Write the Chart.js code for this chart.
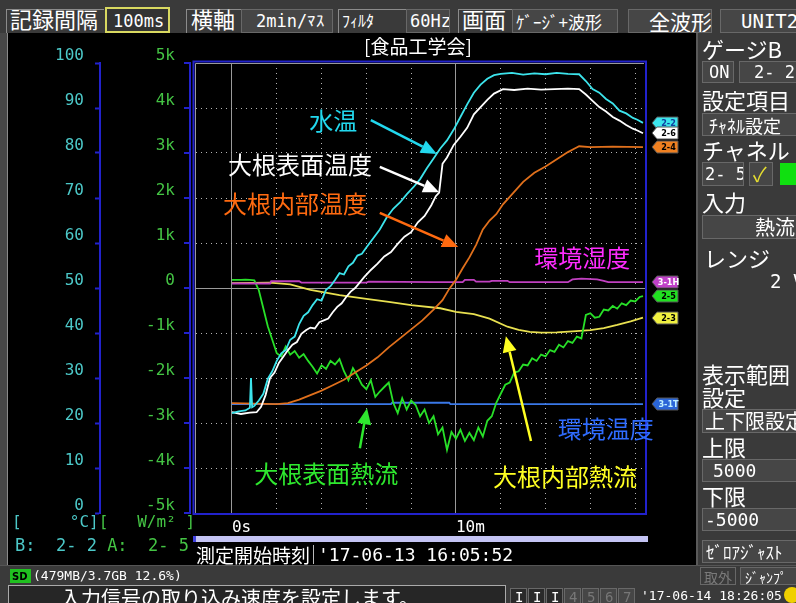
<!doctype html>
<html>
<head>
<meta charset="utf-8">
<title>食品工学会 記録画面</title>
<script src="https://cdn.jsdelivr.net/npm/chart.js@4"></script>
<style>
body { margin:0; width:796px; height:603px; overflow:hidden; position:relative; background:#000; color:#fff; font-family:'Noto Sans CJK JP', sans-serif; }
.t { position:absolute; white-space:nowrap; line-height:1; }
.pre { white-space:pre; }
.box { position:absolute; box-sizing:border-box; background:#464646; border:1px solid #686868; white-space:pre; overflow:hidden; line-height:1; }
.mono { font-family:'DejaVu Sans Mono', monospace; }
.grp { position:absolute; box-sizing:border-box; border-left:1px solid #8c8c8c; border-top:1px solid #8c8c8c; }
#chartBox { position:absolute; left:8px; top:33px; width:689px; height:532px; }
</style>
</head>
<body>
<!-- header -->
<div class="t" style="left:0;top:0;width:796px;height:33px;background:#3a3a3a"></div>
<div class="grp" style="left:6px;top:9px;width:98px;height:24px"></div>
<div class="t" style="left:10px;top:7px;font-size:22px">記録間隔</div>
<div class="box mono" style="left:105px;top:7px;width:65px;height:26px;border:2px solid #d8d860;background:#333;font-size:17px;padding:4px 0 0 6px">100ms</div>
<div class="grp" style="left:186px;top:9px;width:56px;height:24px"></div>
<div class="t" style="left:191px;top:7px;font-size:22px">横軸</div>
<div class="box mono" style="left:241px;top:9px;width:92px;height:24px;font-size:17px;padding:3px 0 0 14px">2min/ﾏｽ</div>
<div class="grp" style="left:338px;top:9px;width:68px;height:24px"></div>
<div class="t" style="left:342px;top:12px;font-size:16px">ﾌｨﾙﾀ</div>
<div class="box mono" style="left:406px;top:9px;width:44px;height:24px;font-size:17px;padding:3px 0 0 3px">60Hz</div>
<div class="grp" style="left:458px;top:9px;width:54px;height:24px"></div>
<div class="t" style="left:462px;top:7px;font-size:22px">画面</div>
<div class="box" style="left:512px;top:9px;width:106px;height:24px;font-size:17px;padding:3px 0 0 3px">ｹﾞｰｼﾞ+波形</div>
<div class="box" style="left:628px;top:9px;width:84px;height:24px;font-size:21px;padding:1px 0 0 20px">全波形</div>
<div class="box mono" style="left:720px;top:9px;width:80px;height:24px;font-size:19px;padding:2px 0 0 20px">UNIT2</div>

<!-- left frame strip -->
<div class="t" style="left:0;top:33px;width:7px;height:532px;background:#474747;border-right:1px solid #8a8a8a"></div>

<!-- chart -->
<div id="chartBox"><canvas id="canvas" width="689" height="532"></canvas></div>
<div class="t" style="left:364px;top:36px;font-size:19px">[食品工学会]</div>

<!-- under chart -->
<div class="t pre mono" style="left:12px;top:514px;font-size:16px"><span style="color:#4cc8c8">[     °C]</span><span style="color:#44c444">[   W/m² ]</span></div>
<div class="t pre mono" style="left:15px;top:537px;font-size:17px"><span style="color:#4cc8c8">B:  2- 2 </span><span style="color:#44c444">A:  2- 5</span></div>
<div class="t" style="left:193px;top:536px;width:452px;height:6px;background:#c4c4f4;border-left:3px solid #4040e0"></div>
<div class="t" style="left:196px;top:545px;font-size:19px;padding-right:3px;border-right:1px solid #bbb">測定開始時刻</div>
<div class="t mono" style="left:318px;top:546px;font-size:18px">'17-06-13 16:05:52</div>

<!-- right panel -->
<div class="t" style="left:696px;top:33px;width:100px;height:532px;background:#3a3a3a;border-left:2px solid #5a5a5a"></div>
<div class="t" style="left:702px;top:37px;font-size:22px">ゲージB</div>
<div class="box mono" style="left:702px;top:61px;width:32px;height:22px;font-size:17px;padding:2px 0 0 6px">ON</div>
<div class="box mono" style="left:739px;top:61px;width:62px;height:22px;font-size:17px;padding:2px 0 0 14px">2- 2</div>
<div class="t" style="left:702px;top:88px;font-size:22px">設定項目</div>
<div class="box" style="left:702px;top:113px;width:98px;height:23px;font-size:18px;padding:2px 0 0 6px">ﾁｬﾈﾙ設定</div>
<div class="t" style="left:702px;top:138px;font-size:22px">チャネル</div>
<div class="box mono" style="left:702px;top:162px;width:42px;height:24px;font-size:17px;padding:3px 0 0 2px">2- 5</div>
<div class="box" style="left:749px;top:162px;width:24px;height:24px;font-size:20px;color:#e8e030;padding:1px 0 0 3px">✓</div>
<div class="t" style="left:780px;top:163px;width:20px;height:22px;background:#10e010"></div>
<div class="t" style="left:702px;top:190px;font-size:22px">入力</div>
<div class="box" style="left:702px;top:215px;width:98px;height:24px;font-size:20px;padding:1px 0 0 52px">熱流</div>
<div class="t" style="left:704px;top:246px;font-size:22px">レンジ</div>
<div class="t mono" style="left:770px;top:272px;font-size:19px">2 V</div>
<div class="t" style="left:702px;top:362px;font-size:22px">表示範囲</div>
<div class="t" style="left:702px;top:385px;font-size:22px">設定</div>
<div class="box" style="left:702px;top:409px;width:98px;height:24px;font-size:20px;padding:1px 0 0 2px">上下限設定</div>
<div class="t" style="left:702px;top:435px;font-size:22px">上限</div>
<div class="box mono" style="left:702px;top:459px;width:98px;height:23px;font-size:18px;padding:2px 0 0 10px">5000</div>
<div class="t" style="left:702px;top:484px;font-size:22px">下限</div>
<div class="box mono" style="left:702px;top:508px;width:98px;height:23px;font-size:18px;padding:2px 0 0 2px">-5000</div>
<div class="box" style="left:702px;top:540px;width:98px;height:23px;font-size:17px;padding:2px 0 0 3px">ｾﾞﾛｱｼﾞｬｽﾄ</div>

<!-- bottom bar -->
<div class="t" style="left:0;top:565px;width:796px;height:38px;background:#3a3a3a;border-top:1px solid #555"></div>
<div class="t" style="left:10px;top:569px;width:21px;height:14px;background:#20c020;color:#000;font:bold 10px 'DejaVu Sans';padding:2px 0 0 2px;box-sizing:border-box">SD</div>
<div class="t mono" style="left:33px;top:569px;font-size:13px">(479MB/3.7GB 12.6%)</div>
<div class="box" style="left:700px;top:567px;width:36px;height:18px;font-size:14px;color:#7a7a7a;background:#3a3a3a;padding:2px 0 0 3px">取外</div>
<div class="box" style="left:740px;top:567px;width:60px;height:18px;font-size:14px;padding:2px 0 0 4px">ｼﾞｬﾝﾌﾟ</div>
<div class="box" style="left:8px;top:585px;width:498px;height:24px;background:#262626;border-color:#aaa;font-size:20px;padding:2px 0 0 52px">入力信号の取り込み速度を設定します。</div>
<div class="box mono" style="left:510px;top:588px;width:17px;height:18px;font-size:14px;padding:1px 0 0 4px;background:#2a2a2a">I</div>
<div class="box mono" style="left:528px;top:588px;width:17px;height:18px;font-size:14px;padding:1px 0 0 4px;background:#2a2a2a">I</div>
<div class="box mono" style="left:546px;top:588px;width:17px;height:18px;font-size:14px;padding:1px 0 0 4px;background:#2a2a2a">I</div>
<div class="box mono" style="left:564px;top:588px;width:17px;height:18px;font-size:14px;padding:1px 0 0 4px;color:#777">4</div>
<div class="box mono" style="left:582px;top:588px;width:17px;height:18px;font-size:14px;padding:1px 0 0 4px;color:#777">5</div>
<div class="box mono" style="left:600px;top:588px;width:17px;height:18px;font-size:14px;padding:1px 0 0 4px;color:#777">6</div>
<div class="box mono" style="left:618px;top:588px;width:17px;height:18px;font-size:14px;padding:1px 0 0 4px;color:#777">7</div>
<div class="t mono" style="left:641px;top:589px;font-size:13px">'17-06-14 18:26:05</div>
<div class="t" style="left:784px;top:587px;width:16px;height:16px;border-radius:50%;background:#f0d000"></div>

<script>
// time axis in minutes from the start of measurement
var timeTicks = [0, 2, 4, 6, 8, 10, 12, 14, 16, 18];
var timeTickLabels = {0: '0s', 10: '10m'};

// 水温 (2-2) [°C]
var timeWater = [0, 0.3, 0.6, 0.8, 0.85, 0.9, 1.0, 1.2, 1.4, 1.6, 1.8, 2.0, 2.2, 2.4, 2.6, 2.8, 3.0, 3.2, 3.4, 3.6, 3.8,
	4.0, 4.2, 4.4, 4.6, 4.8, 5.0, 5.2, 5.4, 5.6, 5.8, 6.0, 6.3, 6.6, 6.9, 7.2, 7.5, 7.8, 8.1, 8.4, 8.7, 9.0, 9.3, 9.6, 9.9,
	10.2, 10.5, 10.8, 11.1, 11.4, 11.7, 12.0, 12.5, 13.0, 13.5, 14.0, 14.5, 15.0, 15.5, 15.8, 16.1, 16.4, 16.7, 17.0, 17.3,
	17.6, 17.9, 18.1, 18.35];
var waterTemp = [22.2, 22.6, 22.8, 23.4, 30.0, 23.5, 23.8, 25.0, 26.5, 29.8, 31.5, 33.8, 35.5, 36.2, 38.5, 39.2, 42.0, 43.8, 44.6, 46.2, 47.5,
	47.2, 49.6, 50.4, 51.8, 53.3, 53.0, 54.8, 55.6, 57.2, 57.6, 59.0, 61.0, 63.0, 65.6, 67.6, 69.0, 70.8, 72.4, 74.2, 76.6, 78.8, 81.0, 82.8, 85.2,
	88.0, 90.8, 93.4, 95.2, 96.5, 97.3, 97.6, 97.8, 97.4, 97.7, 97.5, 97.8, 97.6, 97.5, 96.0, 94.2, 93.4, 92.0, 91.0, 89.4,
	88.8, 87.8, 87.4, 86.7];

// 大根表面温度 (2-6) [°C]
var timeSurf = [0, 0.4, 0.8, 1.1, 1.3, 1.5, 1.7, 1.9, 2.1, 2.3, 2.5, 2.7, 2.9, 3.1, 3.3, 3.5, 3.7, 3.9, 4.1, 4.3,
	4.5, 4.7, 4.9, 5.1, 5.3, 5.5, 5.7, 5.9, 6.2, 6.5, 6.8, 7.1, 7.4, 7.7, 8.0, 8.3, 8.6, 8.9, 9.1, 9.25,
	9.4, 9.6, 9.9, 10.2, 10.5, 10.8, 11.1, 11.4, 11.7, 12.1, 12.6, 13.2, 13.8, 14.4, 15.0, 15.5, 15.8, 16.1, 16.4, 16.7,
	17.0, 17.3, 17.6, 17.9, 18.1, 18.35];
var surfTemp = [22.4, 22.0, 22.3, 22.4, 23.6, 26.2, 30.0, 31.2, 33.4, 34.8, 36.2, 37.4, 38.0, 39.8, 40.6, 41.2, 41.0, 42.4, 42.8, 43.2,
	44.6, 45.8, 46.6, 48.0, 49.2, 50.0, 51.2, 52.4, 54.0, 55.4, 57.0, 58.0, 59.8, 61.4, 62.4, 64.6, 66.0, 68.4, 70.4, 71.2,
	77.6, 79.0, 81.8, 83.6, 85.6, 88.6, 90.2, 91.8, 93.2, 94.2, 94.0, 94.3, 94.1, 94.2, 94.3, 94.2, 93.0, 91.6, 90.2, 89.2,
	88.0, 87.2, 86.2, 85.4, 85.0, 84.4];

// 大根内部温度 (2-4) [°C]
var timeCore = [0, 1.0, 2.0, 2.5, 3.0, 3.5, 4.0, 4.5, 5.0, 5.5, 6.0, 6.5, 7.0, 7.5, 8.0, 8.5, 9.0, 9.4, 9.7, 10.0,
	10.3, 10.6, 10.9, 11.2, 11.5, 11.8, 12.1, 12.5, 13.0, 13.5, 14.0, 14.5, 15.0, 15.3, 15.5, 16.0, 17.0, 18.35];
var coreTemp = [24.4, 24.3, 24.2, 24.4, 25.2, 26.2, 27.2, 28.4, 29.6, 31.2, 32.8, 34.6, 36.8, 38.8, 40.8, 42.8, 45.2, 47.3, 49.8, 51.8,
	54.4, 56.8, 59.6, 63.0, 65.0, 66.4, 68.6, 70.8, 73.6, 75.6, 77.0, 78.6, 80.2, 81.0, 81.5, 81.3, 81.4, 81.3];

// 環境湿度 (3-1H) [%]
var timeHum = [0, 1.7, 1.75, 3.0, 3.1, 6.0, 6.1, 9.0, 10.3, 10.4, 10.8, 10.9, 11.5, 11.6, 12.3, 12.4, 15.0, 15.2, 15.6, 16.3, 16.6, 16.8, 18.35];
var humidity = [51.0, 51.0, 51.5, 51.5, 51.2, 51.2, 51.4, 51.3, 51.3, 51.8, 51.8, 51.4, 51.4, 51.6, 51.6, 51.3, 51.3, 51.9, 52.1, 51.9, 51.6, 51.3, 51.3];

// 環境温度 (3-1T) [°C]
var timeAmb = [0, 7.1, 7.15, 9.7, 9.75, 18.35];
var ambTemp = [24.2, 24.2, 24.5, 24.5, 24.2, 24.2];

// 大根表面熱流 (2-5) [W/m²]
var timeSurfFlux = [0, 0.2, 0.4, 0.6, 0.8, 1.0, 1.2, 1.4, 1.6, 1.8, 2.0, 2.2, 2.4, 2.6, 2.8, 3.0, 3.2, 3.4, 3.6, 3.8,
	4.0, 4.2, 4.4, 4.6, 4.8, 5.0, 5.2, 5.4, 5.6, 5.8, 6.0, 6.2, 6.4, 6.6, 6.8, 7.0, 7.2, 7.4, 7.6, 7.8,
	8.0, 8.2, 8.4, 8.6, 8.8, 9.0, 9.2, 9.4, 9.6, 9.8, 10.0, 10.2, 10.4, 10.6, 10.8, 11.0, 11.2, 11.4, 11.6, 11.8,
	12.0, 12.2, 12.4, 12.6, 12.8, 13.0, 13.2, 13.4, 13.6, 13.8, 14.0, 14.2, 14.4, 14.6, 14.8, 15.0, 15.2, 15.4, 15.6, 15.8,
	16.0, 16.2, 16.4, 16.6, 16.8, 17.0, 17.2, 17.4, 17.6, 17.8, 18.0, 18.2, 18.35];
var surfFlux = [180, 180, 180, 185, 180, 170, -50, -450, -850, -1150, -1450, -1520, -1300, -1480, -1400, -1550, -1470, -1620, -1750, -1900,
	-1720, -1800, -1620, -1700, -1580, -1850, -2050, -1780, -1950, -2150, -2250, -2050, -2420, -2300, -2200, -2100, -2550, -2780, -2450, -2700,
	-2500, -2600, -2850, -2700, -3000, -2850, -3250, -3100, -3600, -3200, -3350, -3150, -3400, -3220, -3380, -3100, -3300, -2950, -2850, -2550,
	-2350, -2150, -2100, -1880, -1850, -1700, -1720, -1560, -1620, -1480, -1520, -1380, -1420, -1260, -1320, -1180, -1220, -1080, -1120, -600,
	-560, -660, -640, -480, -500, -400, -460, -340, -380, -280, -300, -200, -180];

// 大根内部熱流 (2-3) [W/m²]
var timeCoreFlux = [0, 1.7, 2.6, 3.5, 4.8, 6.0, 7.0, 8.0, 9.3, 10.0, 10.8, 11.5, 12.3, 12.8, 13.3, 13.8, 14.5, 15.2, 16.0, 16.6, 17.2, 17.8, 18.35];
var coreFlux = [110, 120, 80, -40, -160, -240, -310, -380, -450, -530, -580, -680, -860, -930, -975, -990, -985, -965, -935, -890, -820, -740, -660];

function pts(ts, vs) {
	return ts.map(function(t, i) { return {x: t, y: vs[i]}; });
}

// channel tags on the right edge
var flags = [
	{tag: '2-2', fill: '#3ce4ec', text: '#1040a0'},
	{tag: '2-6', fill: '#ffffff', text: '#000'},
	{tag: '2-4', fill: '#f08020', text: '#000'},
	{tag: '3-1H', fill: '#c040c8', text: '#fff'},
	{tag: '2-5', fill: '#20e020', text: '#000'},
	{tag: '2-3', fill: '#f0f040', text: '#000'},
	{tag: '3-1T', fill: '#2a66d8', text: '#c0f0ff'}
];

// callouts, placed in (minutes, °C) units
var notes = [
	{text: '水温', color: '#22d8ee', x: 3.45, y: 87.1, from: [6.2, 87.3], to: [9.15, 79.8]},
	{text: '大根表面温度', color: '#ffffff', x: -0.18, y: 77.3, from: [6.6, 76.9], to: [9.25, 71.3]},
	{text: '大根内部温度', color: '#ff6a10', x: -0.4, y: 68.7, from: [6.6, 66.7], to: [10.1, 59.1]},
	{text: '環境湿度', color: '#ff2cff', x: 13.5, y: 56.7},
	{text: '環境温度', color: '#2f6cff', x: 14.55, y: 18.7},
	{text: '大根表面熱流', color: '#2ee82e', x: 1.0, y: 8.7, from: [5.71, 14.4], to: [6.03, 23.3]},
	{text: '大根内部熱流', color: '#ffff22', x: 11.65, y: 8.0, from: [13.35, 16.0], to: [12.23, 39.3]}
];

var loggerDecor = {
	id: 'loggerDecor',
	afterDraw: function(chart) {
		var ctx = chart.ctx;
		var ca = chart.chartArea;
		var xs = chart.scales.x, yt = chart.scales.yT, yf = chart.scales.yF;
		ctx.save();

		// plot frame
		ctx.strokeStyle = '#2222cc';
		ctx.lineWidth = 2;
		ctx.strokeRect(ca.left - 1.5, ca.top - 1.5, ca.right - ca.left + 2.5, ca.bottom - ca.top + 2.5);
		ctx.strokeStyle = '#9a9a9a';
		ctx.lineWidth = 1;
		ctx.beginPath();
		ctx.moveTo(ca.left + 0.5, ca.bottom);
		ctx.lineTo(ca.left + 0.5, ca.top + 0.5);
		ctx.lineTo(ca.right - 1, ca.top + 0.5);
		ctx.stroke();

		// heat flux axis line with its ticks
		var ax = ca.left - 5;
		ctx.strokeStyle = '#2222cc';
		ctx.lineWidth = 2;
		ctx.beginPath();
		ctx.moveTo(ax, ca.top - 1);
		ctx.lineTo(ax, ca.bottom + 1);
		yf.ticks.forEach(function(t) {
			var y = Math.round(yf.getPixelForValue(t.value));
			ctx.moveTo(ax - 6, y);
			ctx.lineTo(ax, y);
		});
		ctx.stroke();

		// channel tags at each trace end
		ctx.font = 'bold 9px "DejaVu Sans Condensed", sans-serif';
		ctx.textBaseline = 'middle';
		ctx.textAlign = 'center';
		chart.data.datasets.forEach(function(ds, i) {
			var meta = chart.getDatasetMeta(i);
			var last = meta.data[meta.data.length - 1];
			var y = Math.round(last.y);
			var f = flags[i];
			var x0 = ca.right + 7, x1 = ca.right + 12, x2 = ca.right + 33;
			ctx.beginPath();
			ctx.moveTo(x0, y);
			ctx.lineTo(x1, y - 6);
			ctx.lineTo(x2, y - 6);
			ctx.lineTo(x2, y + 6);
			ctx.lineTo(x1, y + 6);
			ctx.closePath();
			ctx.fillStyle = f.fill;
			ctx.fill();
			ctx.strokeStyle = '#555';
			ctx.lineWidth = 1;
			ctx.stroke();
			ctx.fillStyle = f.text;
			ctx.fillText(f.tag, (x1 + x2) / 2 + 1, y + 0.5);
		});

		// callouts
		ctx.font = '24px "Noto Sans CJK JP", sans-serif';
		ctx.textAlign = 'left';
		ctx.textBaseline = 'middle';
		notes.forEach(function(n) {
			ctx.fillStyle = n.color;
			ctx.fillText(n.text, xs.getPixelForValue(n.x), yt.getPixelForValue(n.y));
			if (!n.from) {
				return;
			}
			var x1 = xs.getPixelForValue(n.from[0]), y1 = yt.getPixelForValue(n.from[1]);
			var x2 = xs.getPixelForValue(n.to[0]), y2 = yt.getPixelForValue(n.to[1]);
			var a = Math.atan2(y2 - y1, x2 - x1);
			var hl = 16, hw = 7;
			var bx = x2 - hl * Math.cos(a), by = y2 - hl * Math.sin(a);
			ctx.strokeStyle = n.color;
			ctx.lineWidth = 2.5;
			ctx.beginPath();
			ctx.moveTo(x1, y1);
			ctx.lineTo(bx, by);
			ctx.stroke();
			ctx.beginPath();
			ctx.moveTo(x2, y2);
			ctx.lineTo(bx + hw * Math.sin(a), by - hw * Math.cos(a));
			ctx.lineTo(bx - hw * Math.sin(a), by + hw * Math.cos(a));
			ctx.closePath();
			ctx.fill();
		});
		ctx.restore();
	}
};

function dotted(ctx, solidValues) {
	if (!ctx.tick) {
		return [];
	}
	return solidValues.indexOf(ctx.tick.value) >= 0 ? [] : [1, 4];
}

window.onload = function() {
	var ctx = document.getElementById('canvas').getContext('2d');
	var line = {pointRadius: 0, borderWidth: 1.8, tension: 0, fill: false};
	window.myChart = new Chart(ctx, {
		type: 'line',
		data: {
			datasets: [
				Object.assign({label: '水温', data: pts(timeWater, waterTemp), borderColor: '#3ce4ec', yAxisID: 'yT'}, line),
				Object.assign({label: '大根表面温度', data: pts(timeSurf, surfTemp), borderColor: '#ffffff', yAxisID: 'yT'}, line),
				Object.assign({label: '大根内部温度', data: pts(timeCore, coreTemp), borderColor: '#e0701c', yAxisID: 'yT'}, line),
				Object.assign({label: '環境湿度', data: pts(timeHum, humidity), borderColor: '#c040c0', yAxisID: 'yT'}, line),
				Object.assign({label: '大根表面熱流', data: pts(timeSurfFlux, surfFlux), borderColor: '#28e028', yAxisID: 'yF'}, line),
				Object.assign({label: '大根内部熱流', data: pts(timeCoreFlux, coreFlux), borderColor: '#e8e050', yAxisID: 'yF'}, line),
				Object.assign({label: '環境温度', data: pts(timeAmb, ambTemp), borderColor: '#3a78e8', yAxisID: 'yT'}, line)
			]
		},
		options: {
			responsive: false,
			animation: false,
			layout: {padding: {top: 30, right: 52, left: 0, bottom: 0}},
			plugins: {legend: {display: false}, tooltip: {enabled: false}},
			scales: {
				x: {
					type: 'linear',
					min: -1.65,
					max: 18.44,
					afterBuildTicks: function(s) {
						s.ticks = timeTicks.map(function(v) { return {value: v}; });
					},
					afterFit: function(s) { s.height = 52; },
					ticks: {
						autoSkip: false,
						maxRotation: 0,
						align: 'start',
						padding: 5,
						color: '#ffffff',
						font: {family: 'DejaVu Sans Mono', size: 16},
						callback: function(v) { return timeTickLabels[v] || ''; }
					},
					grid: {
						drawTicks: false,
						lineWidth: 1,
						color: function(c) { return c.tick && (c.tick.value === 0 || c.tick.value === 10) ? '#9a9a9a' : '#b4b4b4'; }
					},
					border: {display: false, dash: function(c) { return dotted(c, [0, 10]); }}
				},
				yT: {
					position: 'left',
					weight: 1,
					min: 0,
					max: 100,
					afterFit: function(s) { s.width = 92; },
					ticks: {
						stepSize: 10,
						padding: 11,
						labelOffset: -7,
						color: '#4cc8c8',
						font: {family: 'DejaVu Sans Mono', size: 16}
					},
					grid: {
						lineWidth: 1,
						tickLength: 5,
						tickWidth: 2,
						tickColor: '#2222cc',
						color: function(c) {
							if (!c.tick || c.tick.value === 0 || c.tick.value === 100) {
								return 'rgba(0,0,0,0)';
							}
							return c.tick.value === 50 ? '#9a9a9a' : '#b4b4b4';
						}
					},
					border: {display: true, color: '#2222cc', width: 2, dash: function(c) { return dotted(c, [50]); }}
				},
				yF: {
					position: 'left',
					weight: 0,
					min: -5000,
					max: 5000,
					afterFit: function(s) { s.width = 95; },
					ticks: {
						stepSize: 1000,
						padding: 12,
						labelOffset: -7,
						color: '#44c444',
						font: {family: 'DejaVu Sans Mono', size: 16},
						callback: function(v) { return v === 0 ? '0' : (v / 1000) + 'k'; }
					},
					grid: {display: false},
					border: {display: false}
				}
			}
		},
		plugins: [loggerDecor]
	});
};
</script>
</body>
</html>
